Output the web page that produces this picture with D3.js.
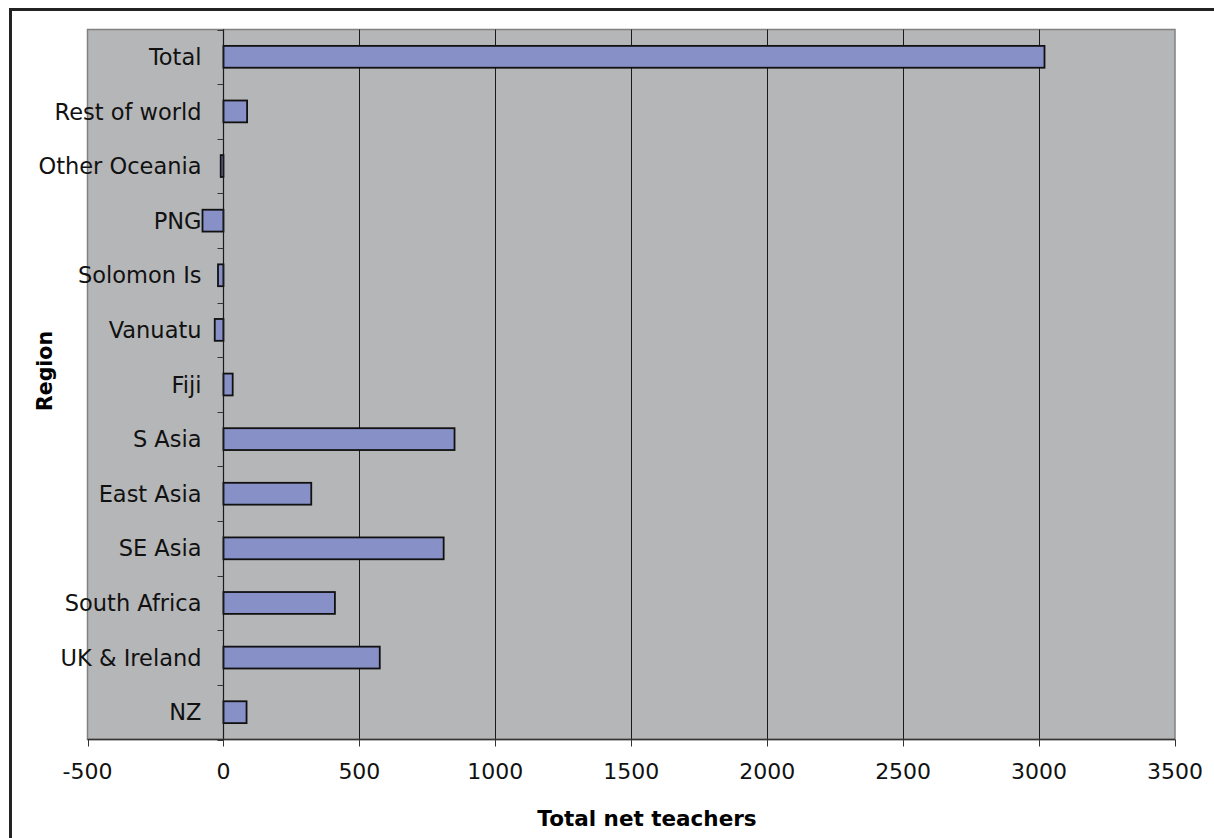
<!DOCTYPE html>
<html>
<head>
<meta charset="utf-8">
<script src="https://cdn.jsdelivr.net/npm/d3@7"></script>
<style>
  html, body { margin: 0; padding: 0; background: #fff; }
  svg { display: block; }
</style>
</head>
<body>
<svg id="chart" width="1214" height="838"></svg>
<script>
// Regions, listed bottom to top as they appear on the chart
const regions = ["NZ", "UK & Ireland", "South Africa", "SE Asia", "East Asia", "S Asia",
                 "Fiji", "Vanuatu", "Solomon Is", "PNG", "Other Oceania", "Rest of world", "Total"];
// Net teachers per region
const netTeachers = [85, 575, 410, 810, 323, 850, 34, -32, -20, -77, -10, 87, 3020];
// Value axis ticks
const xTicks = [-500, 0, 500, 1000, 1500, 2000, 2500, 3000, 3500];

const svg = d3.select("#chart");
const W = 1214, H = 838;
const font = "'DejaVu Sans', Verdana, sans-serif";

// Outer chart frame
svg.append("rect")
  .attr("x", 10.5).attr("y", 9.5)
  .attr("width", W + 20).attr("height", H + 20)
  .attr("fill", "#fff").attr("stroke", "#222").attr("stroke-width", 3);

const plot = { left: 87.5, right: 1175, top: 29.5, bottom: 739.5 };

const x = d3.scaleLinear().domain([-500, 3500]).range([plot.left, plot.right]);
const yBand = d3.scaleBand().domain(regions.slice().reverse())
  .range([plot.top, plot.bottom]);

// Plot background
svg.append("rect")
  .attr("x", plot.left).attr("y", plot.top)
  .attr("width", plot.right - plot.left).attr("height", plot.bottom - plot.top)
  .attr("fill", "#b5b6b8").attr("stroke", "#808080").attr("stroke-width", 1.5);

// Vertical gridlines
svg.append("g").selectAll("line")
  .data(xTicks.filter(d => d > -500 && d < 3500))
  .join("line")
  .attr("x1", d => Math.round(x(d)) + 0.5).attr("x2", d => Math.round(x(d)) + 0.5)
  .attr("y1", plot.top).attr("y2", plot.bottom)
  .attr("stroke", "#1a1a1a").attr("stroke-width", 1);

// Bars
svg.append("g").selectAll("rect")
  .data(regions.map((r, i) => ({ region: r, value: netTeachers[i] })))
  .join("rect")
  .attr("x", d => x(Math.min(0, d.value)))
  .attr("width", d => Math.abs(x(d.value) - x(0)))
  .attr("y", d => yBand(d.region) + yBand.bandwidth() / 2 - yBand.bandwidth() * 0.2)
  .attr("height", yBand.bandwidth() * 0.4)
  .attr("fill", "#8790c7").attr("stroke", "#111").attr("stroke-width", 1.8);

// Category axis at zero
const x0 = Math.round(x(0)) + 0.5;
const yAxis = svg.append("g").attr("transform", `translate(${x0},0)`);
yAxis.append("line")
  .attr("y1", plot.top).attr("y2", plot.bottom)
  .attr("stroke", "#1a1a1a").attr("stroke-width", 1.2);
const boundaries = yBand.domain().map(r => yBand(r)).concat([plot.bottom]);
yAxis.selectAll("line.tick")
  .data(boundaries)
  .join("line").attr("class", "tick")
  .attr("x1", -6).attr("x2", 0)
  .attr("y1", d => Math.round(d) + 0.5).attr("y2", d => Math.round(d) + 0.5)
  .attr("stroke", "#333").attr("stroke-width", 1);
yAxis.selectAll("text")
  .data(yBand.domain())
  .join("text")
  .attr("x", -22)
  .attr("y", d => yBand(d) + yBand.bandwidth() / 2)
  .attr("dy", "0.36em")
  .attr("text-anchor", "end")
  .attr("font-family", font).attr("font-size", 22.5).attr("fill", "#111")
  .text(d => d);

// Value axis along the bottom
const xAxis = svg.append("g").attr("transform", `translate(0,${plot.bottom})`);
xAxis.append("line")
  .attr("x1", plot.left).attr("x2", plot.right)
  .attr("stroke", "#333").attr("stroke-width", 1.5);
xAxis.selectAll("line.tick")
  .data(xTicks)
  .join("line").attr("class", "tick")
  .attr("x1", d => Math.round(x(d)) + 0.5).attr("x2", d => Math.round(x(d)) + 0.5)
  .attr("y1", 0).attr("y2", 7)
  .attr("stroke", "#333").attr("stroke-width", 1);
xAxis.selectAll("text")
  .data(xTicks)
  .join("text")
  .attr("x", d => x(d))
  .attr("y", 39)
  .attr("text-anchor", "middle")
  .attr("font-family", font).attr("font-size", 22).attr("fill", "#111")
  .text(d => d);

// Axis titles
svg.append("text")
  .attr("x", 647).attr("y", 826)
  .attr("text-anchor", "middle")
  .attr("font-family", font).attr("font-size", 21.5).attr("font-weight", "bold")
  .text("Total net teachers");
svg.append("text")
  .attr("transform", "translate(52,371) rotate(-90)")
  .attr("text-anchor", "middle")
  .attr("font-family", font).attr("font-size", 20.5).attr("font-weight", "bold")
  .text("Region");
</script>
</body>
</html>
